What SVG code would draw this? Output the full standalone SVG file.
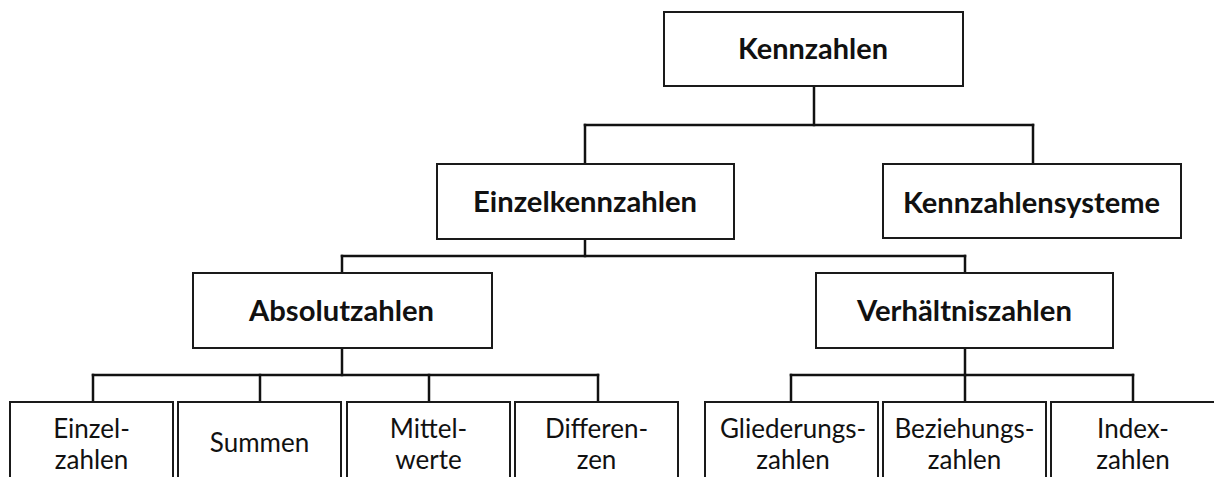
<svg xmlns="http://www.w3.org/2000/svg" width="1214" height="477" viewBox="0 0 1214 477">
<style>
  .box{fill:#fff;stroke:#1a1a1a;stroke-width:2}
  .con line{stroke:#111;stroke-width:2.5;stroke-linecap:square}
  .h{font-family:Lato,"Liberation Sans",sans-serif;font-weight:bold;font-size:28px;fill:#111;text-anchor:middle}
  .r{font-family:Lato,"Liberation Sans",sans-serif;font-size:26px;fill:#111;text-anchor:middle}
</style>
<rect width="1214" height="477" fill="#fff"/>
<g id="connectors" class="con">
  <line x1="814" y1="86" x2="814" y2="125"/>
  <line x1="585" y1="125" x2="1033" y2="125"/>
  <line x1="585" y1="125" x2="585" y2="164"/>
  <line x1="1033" y1="125" x2="1033" y2="164"/>
  <line x1="585" y1="239" x2="585" y2="256"/>
  <line x1="342" y1="256" x2="965" y2="256"/>
  <line x1="342" y1="256" x2="342" y2="273"/>
  <line x1="965" y1="256" x2="965" y2="273"/>
  <line x1="342" y1="348" x2="342" y2="375"/>
  <line x1="93" y1="375" x2="598" y2="375"/>
  <line x1="93" y1="375" x2="93" y2="402"/>
  <line x1="260" y1="375" x2="260" y2="402"/>
  <line x1="429" y1="375" x2="429" y2="402"/>
  <line x1="598" y1="375" x2="598" y2="402"/>
  <line x1="965" y1="348" x2="965" y2="375"/>
  <line x1="791" y1="375" x2="1133" y2="375"/>
  <line x1="791" y1="375" x2="791" y2="402"/>
  <line x1="965" y1="375" x2="965" y2="402"/>
  <line x1="1133" y1="375" x2="1133" y2="402"/>
</g>
<g id="kennzahlen"><rect class="box" x="664" y="12" width="299" height="74"/><text class="h" x="813" y="59" textLength="150" lengthAdjust="spacingAndGlyphs">Kennzahlen</text></g>
<g id="einzelkennzahlen"><rect class="box" x="437" y="164" width="297" height="75"/><text class="h" x="585" y="212" textLength="224" lengthAdjust="spacingAndGlyphs">Einzelkennzahlen</text></g>
<g id="kennzahlensysteme"><rect class="box" x="883" y="164" width="298" height="74"/><text class="h" x="1031.5" y="213" textLength="257" lengthAdjust="spacingAndGlyphs">Kennzahlensysteme</text></g>
<g id="absolutzahlen"><rect class="box" x="193" y="273" width="299" height="75"/><text class="h" x="341.5" y="321" textLength="185" lengthAdjust="spacingAndGlyphs">Absolutzahlen</text></g>
<g id="verhaeltniszahlen"><rect class="box" x="816" y="273" width="297" height="75"/><text class="h" x="964.5" y="321" textLength="215" lengthAdjust="spacingAndGlyphs">Verhältniszahlen</text></g>
<g id="einzelzahlen"><rect class="box" x="10" y="402" width="163" height="90"/><text class="r" x="91.5" y="438">Einzel-</text><text class="r" x="91.5" y="469">zahlen</text></g>
<g id="summen"><rect class="box" x="178" y="402" width="163" height="90"/><text class="r" x="259.5" y="452">Summen</text></g>
<g id="mittelwerte"><rect class="box" x="347" y="402" width="163" height="90"/><text class="r" x="428.5" y="438">Mittel-</text><text class="r" x="428.5" y="469">werte</text></g>
<g id="differenzen"><rect class="box" x="515" y="402" width="163" height="90"/><text class="r" x="596.5" y="438">Differen-</text><text class="r" x="596.5" y="469">zen</text></g>
<g id="gliederungszahlen"><rect class="box" x="705" y="402" width="173" height="90"/><text class="r" x="793" y="438">Gliederungs-</text><text class="r" x="793" y="469">zahlen</text></g>
<g id="beziehungszahlen"><rect class="box" x="883" y="402" width="163" height="90"/><text class="r" x="964.5" y="438">Beziehungs-</text><text class="r" x="964.5" y="469">zahlen</text></g>
<g id="indexzahlen"><rect class="box" x="1051" y="402" width="170" height="90"/><text class="r" x="1133" y="438">Index-</text><text class="r" x="1133" y="469">zahlen</text></g>
</svg>
